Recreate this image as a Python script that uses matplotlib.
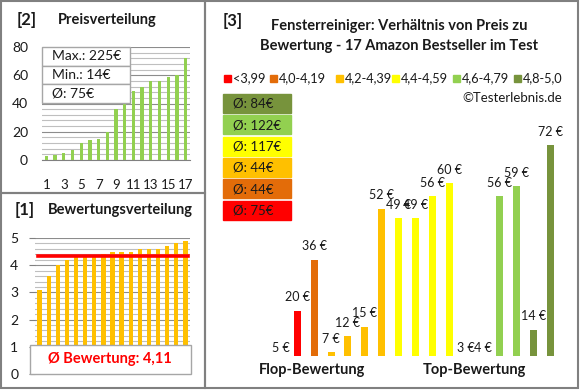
import numpy as np
import matplotlib
matplotlib.use('Agg')
import matplotlib.pyplot as plt
from matplotlib.patches import Rectangle
from matplotlib.ticker import MultipleLocator

plt.rcParams['font.family'] = ['Lato', 'DejaVu Sans']

# --- data ---
prices_sorted = [3, 3.8, 5, 7, 12, 14, 15, 20, 36, 40, 49, 52, 56, 56, 59, 60, 72]
price_info = ['Max.: 225€', 'Min.: 14€', 'Ø: 75€']

ratings_sorted = [3.1, 3.6, 4.0, 4.2, 4.3, 4.3, 4.35, 4.4, 4.5, 4.5, 4.5,
                  4.6, 4.6, 4.6, 4.7, 4.8, 4.9]
rating_line = 4.33
rating_text = 'Ø Bewertung: 4,11'

# products ordered by rating, price shown on each bar, category index
prices_by_rating = [5, 20, 36, 7, 12, 15, 52, 49, 49, 56, 60, 3, 4, 56, 59, 14, 72]
category = [0, 0, 1, 2, 2, 2, 2, 3, 3, 3, 3, 4, 4, 4, 4, 5, 5]
cat_labels = ['<3,99', '4,0-4,19', '4,2-4,39', '4,4-4,59', '4,6-4,79', '4,8-5,0']
cat_colors = ['#FF0000', '#E36C09', '#FFC000', '#FFFF00', '#92D050', '#77933C']
cat_means = ['Ø: 75€', 'Ø: 44€', 'Ø: 44€', 'Ø: 117€', 'Ø: 122€', 'Ø: 84€']

W, H = 580, 390
fig = plt.figure(figsize=(W / 100, H / 100), dpi=100)


def box(l, t, r, b):
    return [l / W, 1 - b / H, (r - l) / W, (b - t) / H]


def fx(x):
    return x / W


def fy(y):
    return 1 - y / H


grey = '#808080'
txt = '#1a1a1a'

# panel frames
for l, t, r, b in [(1, 1, 205, 193), (1, 193, 205, 388), (205, 1, 578, 388)]:
    fig.patches.append(Rectangle((fx(l), fy(b)), (r - l) / W, (b - t) / H,
                                 transform=fig.transFigure, fill=False,
                                 edgecolor=grey, linewidth=1.5))

# ---------- [2] Preisverteilung ----------
ax2 = fig.add_axes(box(42, 47, 190, 160))
n = len(prices_sorted)
x = np.arange(1, n + 1)
ax2.bar(x, prices_sorted, width=0.38, color='#92D050', zorder=3)
ax2.set_xlim(0.5, n + 0.5)
ax2.set_ylim(0, 80)
ax2.yaxis.set_major_locator(MultipleLocator(20))
ax2.yaxis.set_minor_locator(MultipleLocator(4))
ax2.grid(axis='y', which='major', color='#8c8c8c', linewidth=0.8, zorder=0)
ax2.grid(axis='y', which='minor', color='#bfbfbf', linewidth=0.8, zorder=0)
ax2.set_xticks(x[::2])
ax2.tick_params(axis='x', length=0, pad=14, labelsize=9.5, colors=txt)
ax2.tick_params(axis='y', which='both', length=0, pad=10, labelsize=10, colors=txt)
for s in ['top', 'right', 'left']:
    ax2.spines[s].set_visible(False)
ax2.spines['bottom'].set_color(grey)
for i, t in enumerate(price_info):
    top = 47 + i * 18.5
    fig.patches.append(Rectangle((fx(42), fy(top + 18.5)), 88 / W, 18.5 / H,
                                 transform=fig.transFigure, facecolor='white',
                                 edgecolor='#a6a6a6', linewidth=1, zorder=5))
    fig.text(fx(52), fy(top + 9.5), t, fontsize=10, color=txt,
             va='center', ha='left', zorder=6)
fig.text(fx(17), fy(20), '[2]', fontsize=12, fontweight='bold', color=txt, va='center')
fig.text(fx(58), fy(20), 'Preisverteilung', fontsize=10.5, fontweight='bold',
         color=txt, va='center')

# ---------- [1] Bewertungsverteilung ----------
ax1 = fig.add_axes(box(35, 238, 190, 374))
ax1.bar(x, ratings_sorted, width=0.47, color='#FFC000', zorder=3)
ax1.axhline(rating_line, xmin=0.02, xmax=0.985, color='#FF0000', linewidth=2.6, zorder=4)
ax1.set_xlim(0.5, n + 0.5)
ax1.set_ylim(0, 5)
ax1.yaxis.set_major_locator(MultipleLocator(1))
ax1.yaxis.set_minor_locator(MultipleLocator(0.2))
ax1.grid(axis='y', which='major', color='#8c8c8c', linewidth=0.8, zorder=0)
ax1.grid(axis='y', which='minor', color='#bfbfbf', linewidth=0.8, zorder=0)
ax1.set_xticks([])
ax1.tick_params(axis='y', which='major', length=4, color=grey, pad=8,
                labelsize=10, colors=txt)
ax1.tick_params(axis='y', which='minor', length=0)
for s in ['top', 'right', 'left', 'bottom']:
    ax1.spines[s].set_visible(False)
fig.patches.append(Rectangle((fx(30), fy(374)), 160.5 / W, 29 / H,
                             transform=fig.transFigure, facecolor='white',
                             edgecolor='#a6a6a6', linewidth=1, zorder=5))
fig.text(fx(110), fy(359), rating_text, fontsize=10.5, fontweight='bold',
         color='#FF0000', ha='center', va='center', zorder=6)
fig.text(fx(15), fy(210), '[1]', fontsize=12, fontweight='bold', color=txt, va='center')
fig.text(fx(48), fy(210), 'Bewertungsverteilung', fontsize=10.5, fontweight='bold',
         color=txt, va='center')

# ---------- [3] Preis zu Bewertung ----------
ax3 = fig.add_axes(box(272, 100, 559, 356))
ymin = 5.74
pos = np.arange(n)
colors = [cat_colors[c] for c in category]
ax3.bar(pos, prices_by_rating, width=0.415, color=colors, zorder=3)
ax3.set_xlim(-0.5, n - 0.5)
ax3.set_ylim(ymin, 86.1)
ax3.axis('off')
for p, v in zip(pos, prices_by_rating):
    off = 9.5 if v > ymin else 6
    ax3.annotate(f'{v} €', (p, max(v, ymin)), xytext=(0, off), textcoords='offset points',
                 ha='center', va='center', fontsize=9, color=txt,
                 annotation_clip=False)

fig.text(fx(223), fy(21), '[3]', fontsize=12, fontweight='bold', color=txt, va='center')
fig.text(fx(399), fy(26), 'Fensterreiniger: Verhältnis von Preis zu', fontsize=10.5,
         fontweight='bold', color=txt, ha='center', va='center')
fig.text(fx(399), fy(46), 'Bewertung - 17 Amazon Bestseller im Test', fontsize=10.5,
         fontweight='bold', color=txt, ha='center', va='center')

# legend row
leg_x = [224, 270, 336, 392, 453, 514]
for lx, lab, col in zip(leg_x, cat_labels, cat_colors):
    fig.patches.append(Rectangle((fx(lx), fy(81.5)), 6.5 / W, 6.5 / H,
                                 transform=fig.transFigure, color=col))
    fig.text(fx(lx + 8.5), fy(78), lab, fontsize=9.2, color=txt, va='center')
fig.text(fx(562), fy(98), '©Testerlebnis.de', fontsize=9.5, color=txt,
         ha='right', va='center')

# mean boxes, top to bottom: dark green ... red
for i, k in enumerate(range(5, -1, -1)):
    top = 94 + i * 21.3
    fig.patches.append(Rectangle((fx(223), fy(top + 19)), 68 / W, 19 / H,
                                 transform=fig.transFigure, color=cat_colors[k]))
    fig.text(fx(233), fy(top + 10), cat_means[k], fontsize=9.5, color=txt, va='center')

fig.text(fx(312), fy(370), 'Flop-Bewertung', fontsize=10.5, fontweight='bold',
         color=txt, ha='center', va='center')
fig.text(fx(474), fy(370), 'Top-Bewertung', fontsize=10.5, fontweight='bold',
         color=txt, ha='center', va='center')

fig.savefig('out.png', dpi=100)
